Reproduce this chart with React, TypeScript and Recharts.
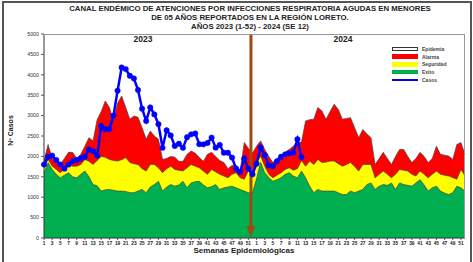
import React from 'react';
import {
  ComposedChart,
  Area,
  Line,
  XAxis,
  YAxis,
  ReferenceLine,
} from 'recharts';

// semanas epidemiológicas (se repite para 2023 y 2024)
const weeks = [
  1, 2, 3, 4, 5, 6, 7, 8, 9, 10, 11, 12, 13, 14, 15, 16, 17, 18, 19, 20, 21, 22, 23, 24, 25, 26,
  27, 28, 29, 30, 31, 32, 33, 34, 35, 36, 37, 38, 39, 40, 41, 42, 43, 44, 45, 46, 47, 48, 49, 50, 51, 52,
];

const yTicks = [0, 500, 1000, 1500, 2000, 2500, 3000, 3500, 4000, 4500, 5000];

// limites superiores de cada zona del canal endémico
const exito2023 = [1600, 1845, 1680, 1560, 1475, 1540, 1600, 1500, 1475, 1560, 1640, 1500, 1310, 1280, 1150, 1180, 1190, 1170, 1150, 1150, 1140, 1110, 1110, 1150, 1190, 1110, 1250, 1310, 1390, 1150, 1250, 1310, 1270, 1300, 1390, 1230, 1350, 1380, 1390, 1300, 1230, 1260, 1310, 1190, 1230, 1250, 1270, 1230, 1190, 1150, 1110, 1110];
const seguridad2023 = [1760, 1925, 1760, 1680, 1600, 1700, 1800, 1760, 1760, 1800, 1925, 1880, 1800, 1900, 2000, 1980, 1925, 1900, 1885, 1920, 1970, 1850, 1820, 1800, 1700, 1640, 1800, 1800, 1720, 1600, 1700, 1760, 1680, 1660, 1640, 1720, 1800, 1760, 1720, 1640, 1560, 1680, 1620, 1560, 1520, 1475, 1560, 1600, 1475, 1440, 1650, 1500];
const alarma2023 = [1900, 2290, 1950, 1850, 1800, 1950, 2100, 2100, 1950, 2050, 2250, 2460, 2380, 2900, 3100, 3360, 3200, 2870, 3300, 3480, 3200, 2910, 2990, 2960, 2700, 2420, 2620, 2500, 2420, 1925, 1950, 2000, 1980, 1880, 1880, 2050, 2130, 2080, 1970, 1880, 2050, 2100, 2000, 1900, 1850, 1700, 1780, 1780, 1650, 2340, 2200, 2080];

const exito2024 = [1450, 1850, 1600, 1480, 1390, 1430, 1475, 1560, 1600, 1520, 1475, 1640, 1475, 1270, 1110, 1190, 1150, 1150, 1150, 1150, 1110, 1065, 1065, 1150, 1110, 1150, 1190, 1310, 1350, 1190, 1270, 1310, 1290, 1350, 1190, 1350, 1310, 1290, 1270, 1350, 1430, 1300, 1150, 1230, 1270, 1150, 1100, 1065, 1110, 1270, 1230, 1150];
const seguridad2024 = [1850, 2010, 1760, 1560, 1475, 1540, 1600, 1680, 1720, 1660, 1700, 1900, 1760, 1885, 1800, 1925, 1850, 1860, 1885, 1885, 1820, 1760, 1800, 1850, 1750, 1640, 1800, 1800, 1800, 1475, 1560, 1640, 1560, 1475, 1560, 1680, 1660, 1640, 1560, 1520, 1640, 1560, 1475, 1560, 1640, 1560, 1540, 1520, 1480, 1440, 1680, 1520];
const alarma2024 = [2250, 2380, 2170, 2000, 1850, 1950, 2010, 2100, 2170, 2250, 2340, 2350, 2870, 2900, 2910, 3200, 3110, 2910, 3100, 3280, 3150, 2910, 2930, 2950, 2700, 2460, 2660, 2550, 2460, 1800, 1950, 2100, 1950, 1800, 2000, 2170, 2170, 2000, 1850, 1950, 2100, 2000, 1850, 1950, 2250, 2050, 2030, 2010, 1925, 2290, 2340, 2050];

// casos notificados
const casos2023 = [1800, 1990, 2020, 1910, 1800, 1700, 1800, 1885, 1910, 1950, 1990, 2170, 2130, 2020, 2745, 2665, 2670, 3000, 3610, 4180, 4140, 3975, 3910, 3630, 3170, 2870, 3200, 3030, 2790, 2210, 2640, 2515, 2255, 2310, 2210, 2470, 2540, 2560, 2300, 2295, 2330, 2460, 2215, 2280, 2090, 2090, 1970, 1700, 1620, 1950, 1700, 1560];
const casos2024 = [1820, 2220, 2030, 1780, 1760, 1880, 1990, 2050, 2080, 2090, 2420, 1980];

const data = [
  ...weeks.map((w, i) => ({
    key: `2023-${w}`,
    exito: exito2023[i],
    seguridad: seguridad2023[i],
    alarma: alarma2023[i],
    casos: casos2023[i],
  })),
  ...weeks.map((w, i) => ({
    key: `2024-${w}`,
    exito: exito2024[i],
    seguridad: seguridad2024[i],
    alarma: alarma2024[i],
    casos: casos2024[i] ?? null,
  })),
];

const font = '"Liberation Sans", Arial, sans-serif';

// flecha que separa los dos años
const Arrow = (props: any) => {
  const { x1, y1, y2 } = props;
  const top = Math.min(y1, y2);
  const bottom = Math.max(y1, y2);
  const x = x1 - 1.5;
  return (
    <g>
      <line x1={x} y1={top} x2={x} y2={bottom - 10} stroke="#9C4A12" strokeWidth={3} />
      <polygon points={`${x - 4.5},${bottom - 12} ${x + 4.5},${bottom - 12} ${x},${bottom - 1}`} fill="#9C4A12" />
    </g>
  );
};

const legendItems = [
  { name: 'Epidemia', color: '#FFFFFF', border: '#333' },
  { name: 'Alarma', color: '#FF0000' },
  { name: 'Seguridad', color: '#FFFF00' },
  { name: 'Exito', color: '#00B050' },
];

const App: React.FC = () => {
  return (
    <div style={{ position: 'absolute', left: 0, top: 0, width: 473, height: 262, background: '#fff', fontFamily: font, overflow: 'hidden' }}>
      {/* marco */}
      <div style={{ position: 'absolute', left: 2, top: 1, width: 466, height: 280, borderTop: '2px solid #555', borderLeft: '2px solid #555', borderRight: '2px solid #555' }} />

      {/* título */}
      <div style={{ position: 'absolute', left: 0, top: 4, width: 500, textAlign: 'center', fontSize: 7.8, fontWeight: 'bold', color: '#222', lineHeight: '9px' }}>
        CANAL ENDÉMICO DE ATENCIONES POR INFECCIONES RESPIRATORIA AGUDAS EN MENORES
        <br />
        DE 05 AÑOS REPORTADOS EN LA REGIÓN LORETO.
        <br />
        AÑOS 2023 (1-52) - 2024 (SE 12)
      </div>

      <ComposedChart width={473} height={262} data={data} margin={{ top: 34, right: 8, bottom: 10, left: 0 }}>
        <XAxis
          dataKey="key"
          interval={1}
          tickFormatter={(k: string) => k.split('-')[1]}
          tick={{ fontSize: 4.8, fill: '#222', fontFamily: font, fontWeight: 'bold' }}
          tickSize={2}
          tickLine={{ stroke: '#555' }}
          axisLine={{ stroke: '#333' }}
          height={14}
        />
        <YAxis
          domain={[0, 5000]}
          ticks={yTicks}
          interval={0}
          width={44}
          tick={{ fontSize: 5.3, fill: '#333', fontFamily: font }}
          tickSize={3}
          tickLine={{ stroke: '#555' }}
          axisLine={{ stroke: '#333' }}
        />
        <Area type="linear" dataKey="alarma" fill="#FF0000" fillOpacity={1} stroke="#444" strokeWidth={0.7} isAnimationActive={false} />
        <Area type="linear" dataKey="seguridad" fill="#FFFF00" fillOpacity={1} stroke="#444" strokeWidth={0.7} isAnimationActive={false} />
        <Area type="linear" dataKey="exito" fill="#00B050" fillOpacity={1} stroke="#444" strokeWidth={0.7} isAnimationActive={false} />
        <ReferenceLine x="2023-52" shape={Arrow} />
        <Line
          type="linear"
          dataKey="casos"
          stroke="#0000FF"
          strokeWidth={2.5}
          dot={{ r: 2.7, fill: '#0000FF', stroke: '#0000FF', strokeWidth: 0.5 }}
          isAnimationActive={false}
        />
      </ComposedChart>

      {/* borde del área de trazado */}
      <div style={{ position: 'absolute', left: 44, top: 34, width: 421, height: 204, borderTop: '1px solid #999', borderRight: '1px solid #999', boxSizing: 'border-box', pointerEvents: 'none' }} />

      <div style={{ position: 'absolute', left: 123, top: 34, width: 40, textAlign: 'center', fontSize: 8.5, fontWeight: 'bold', color: '#222' }}>2023</div>
      <div style={{ position: 'absolute', left: 323, top: 34, width: 40, textAlign: 'center', fontSize: 8.5, fontWeight: 'bold', color: '#222' }}>2024</div>

      {/* leyenda */}
      <div style={{ position: 'absolute', left: 383, top: 43, width: 70, height: 40, background: '#fff' }}>
        {legendItems.map((it, i) => (
          <div key={it.name} style={{ position: 'absolute', left: 9, top: 3 + i * 7.7, height: 6, display: 'flex', alignItems: 'center' }}>
            <div style={{ width: 26, height: 4.5, background: it.color, border: it.border ? `1px solid ${it.border}` : 'none', boxSizing: 'border-box' }} />
            <span style={{ marginLeft: 4, fontSize: 5, fontWeight: 'bold', color: '#444' }}>{it.name}</span>
          </div>
        ))}
        <div style={{ position: 'absolute', left: 9, top: 3 + 4 * 7.7, height: 6, display: 'flex', alignItems: 'center' }}>
          <div style={{ width: 26, height: 1.5, background: '#0000FF' }} />
          <span style={{ marginLeft: 4, fontSize: 5, fontWeight: 'bold', color: '#444' }}>Casos</span>
        </div>
      </div>

      {/* títulos de ejes */}
      <div style={{ position: 'absolute', left: -12, top: 127, width: 44, textAlign: 'center', fontSize: 7, fontWeight: 'bold', color: '#222', transform: 'rotate(-90deg)' }}>Nº Casos</div>
      <div style={{ position: 'absolute', left: 144, top: 246, width: 200, textAlign: 'center', fontSize: 8, fontWeight: 'bold', color: '#222', lineHeight: '9px' }}>Semanas Epidemiológicas</div>
    </div>
  );
};

export default App;
